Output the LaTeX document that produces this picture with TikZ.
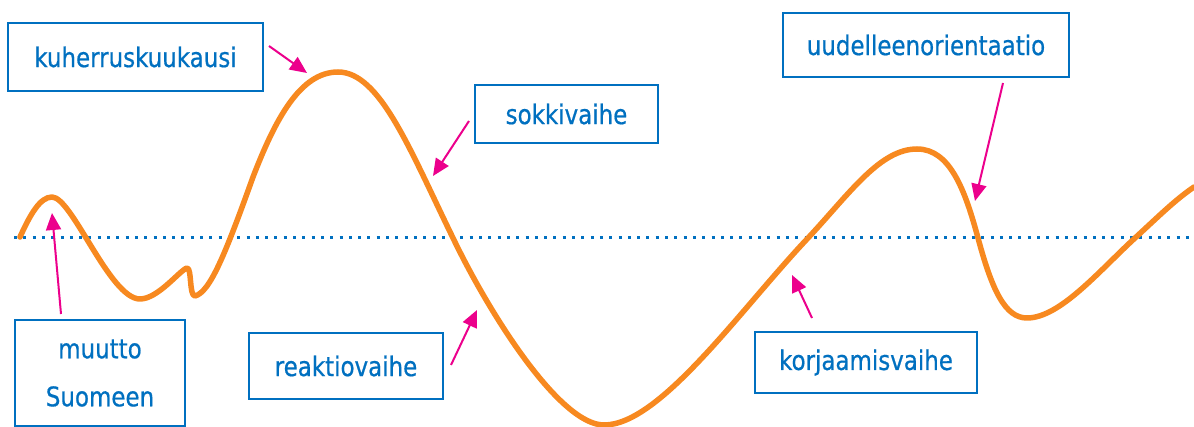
\documentclass[tikz,border=0pt]{standalone}
\usepackage{fontspec}
\setmainfont{DejaVu Sans}[FakeStretch=0.85,FakeBold=0.6]
\usetikzlibrary{arrows.meta}
\definecolor{boxblue}{RGB}{0,112,192}
\definecolor{curveorange}{RGB}{247,137,32}
\definecolor{arrowpink}{RGB}{236,0,140}
\begin{document}
\begin{tikzpicture}[x=1pt,y=-1pt,
  lbl/.style={draw=boxblue, line width=1.2pt, text=boxblue, fill=white, inner sep=0pt,
    font=\fontsize{27}{48}\selectfont, align=center},
  pinkarrow/.style={draw=arrowpink, line width=2pt, -{Triangle[length=17pt,width=15pt]}},
  wave/.style={draw=curveorange, line width=5.5pt, line cap=round, line join=round},
  baseline/.style={draw=boxblue, line width=3pt, dash pattern=on 3pt off 6.3pt}
]
\useasboundingbox (0,0) rectangle (1194,427);

% dotted zero line
\coordinate (zl) at (14,238);
\coordinate (zr) at (1194,238);
\draw[baseline] (zl) -- (zr);

% curve
\draw[wave] (20,237) .. controls (30,215) and (40,197) .. (52,197)
  .. controls (72,197) and (110,299) .. (140,299)
  .. controls (158,299) and (180,270) .. (187,268)
  .. controls (192,268) and (189,296) .. (195,296)
  .. controls (210,292) and (225,255) .. (253,177)
  .. controls (275,120) and (300,72) .. (338,72)
  .. controls (380,72) and (410,150) .. (453,238)
  .. controls (490,315) and (560,425) .. (604,425)
  .. controls (660,425) and (740,310) .. (808,238)
  .. controls (850,193) and (880,149) .. (917,149)
  .. controls (950,149) and (965,190) .. (978,238)
  .. controls (992,290) and (1005,318) .. (1027,318)
  .. controls (1060,318) and (1100,270) .. (1135,238)
  .. controls (1160,215) and (1175,200) .. (1194,187);

% boxes
\node[lbl, minimum width=255pt, minimum height=68pt] (kuh) at (135.5,57) {kuherruskuukausi};
\node[lbl, minimum width=183pt, minimum height=58pt] (sok) at (566.5,114) {sokkivaihe};
\node[lbl, minimum width=286pt, minimum height=64pt] (uud) at (926,45) {uudelleenorientaatio};
\node[lbl, minimum width=170pt, minimum height=106pt] (muu) at (100,373) {muutto\\Suomeen};
\node[lbl, minimum width=194pt, minimum height=66pt] (rea) at (346,366) {reaktiovaihe};
\node[lbl, minimum width=222pt, minimum height=61pt] (kor) at (866,362.5) {korjaamisvaihe};

% arrow end points
\coordinate (muuS) at (61,314);  \coordinate (muuE) at (52,213);
\coordinate (kuhS) at (269,46);  \coordinate (kuhE) at (307,73);
\coordinate (sokS) at (469,121); \coordinate (sokE) at (433,176);
\coordinate (reaS) at (451,365); \coordinate (reaE) at (477,310);
\coordinate (korS) at (812,318); \coordinate (korE) at (792,275);
\coordinate (uudS) at (1003,83); \coordinate (uudE) at (975,201);

\draw[pinkarrow] (muuS) -- (muuE);
\draw[pinkarrow] (kuhS) -- (kuhE);
\draw[pinkarrow] (sokS) -- (sokE);
\draw[pinkarrow] (reaS) -- (reaE);
\draw[pinkarrow] (korS) -- (korE);
\draw[pinkarrow] (uudS) -- (uudE);
\end{tikzpicture}
\end{document}
